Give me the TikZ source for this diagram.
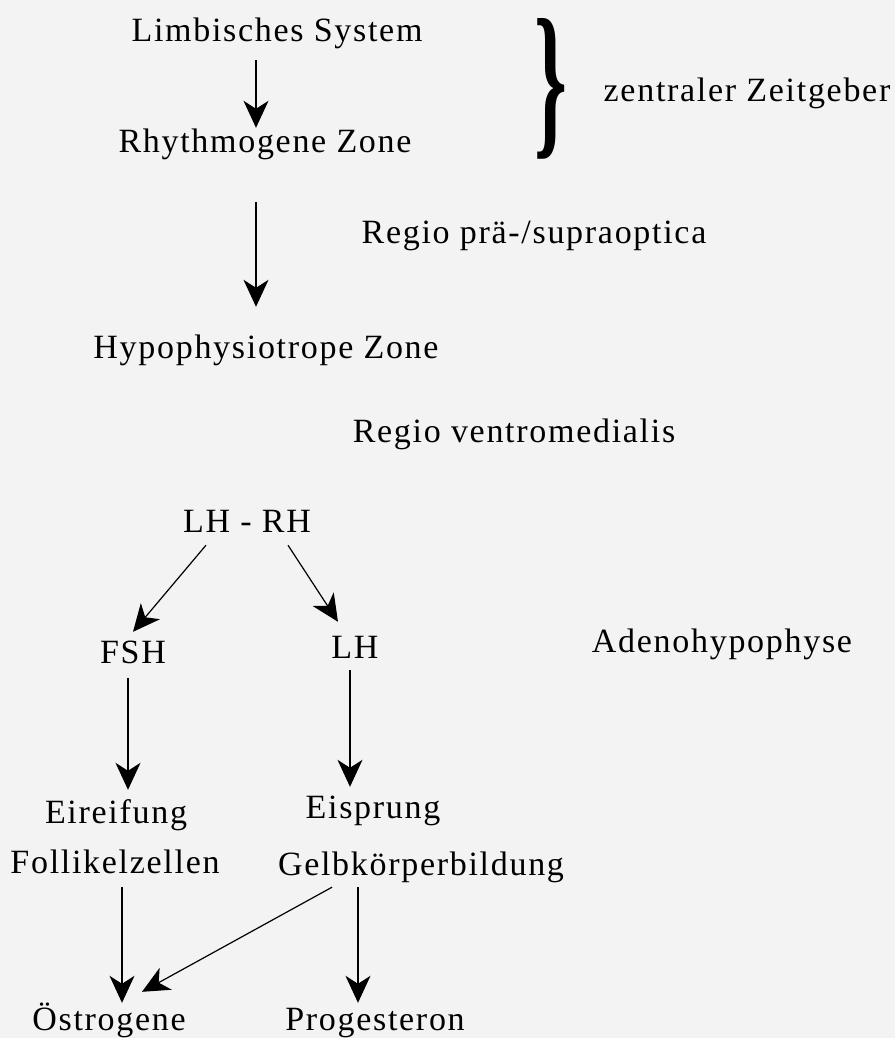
\documentclass[tikz,border=0pt]{standalone}
\usepackage{fontspec}
\setmainfont{Liberation Serif}[LetterSpace=5]
\usepackage{graphicx}
\usetikzlibrary{arrows.meta}
\definecolor{bgpaper}{RGB}{243,243,243}

\begin{document}
\begin{tikzpicture}[
		x=1pt, y=-1pt,
		every node/.style={anchor=base, inner sep=0pt, text height=23pt, text depth=7pt,
			font=\fontsize{34}{40}\selectfont},
		arr/.style={-{Stealth[length=27pt, width=25pt, inset=8pt]}, line width=1.2pt}
	]
  \useasboundingbox (0,0) rectangle (895,1038);
  \fill [bgpaper] (0,0) rectangle (895,1038);
  \node (limbic) at (277, 42) {Limbisches System};
  \node (rhythm) at (265, 152) {Rhythmogene Zone};
  \node (prae_opt) at (534, 243) {Regio prä-/supraoptica};
  \node (hypo) at (266, 358) {Hypophysiotrope Zone};
  \node (ventro) at (514, 442) {Regio ventromedialis};
  \node (lh_rh) at (247, 532) {LH - RH};
  \node (fsh) at (133, 663) {FSH};
  \node (lh) at (355, 658) {LH};
  \node (adeno) at (722, 652) {Adenohypophyse};
  \node (eireif) at (116, 823) {Eireifung};
  \node (eisprung) at (373, 818) {Eisprung};
  \node (follikel) at (115, 873) {Follikelzellen};
  \node (gelb_k) at (421, 875) {Gelbkörperbildung};
  \node (oestro) at (109, 1030) {Östrogene};
  \node (progest) at (375, 1030) {Progesteron};
  \node (brace) [anchor=center, text height=, text depth=] at (553, 89)
    {\resizebox{37pt}{118pt}{\textbf{\}}}};
  \node (zeitgeber) at (747, 102) {zentraler Zeitgeber};
  \draw ([xshift=-21pt, yshift=-11pt]limbic.south) edge [arr] ([xshift=-9pt, yshift=1pt]rhythm.north);
  \draw ([xshift=-9pt, yshift=-43pt]rhythm.south) edge [arr] ([xshift=-10pt, yshift=28pt]hypo.north);
  \draw ([xshift=-41pt, yshift=-6pt]lh_rh.south) edge [arr] ([yshift=8pt]fsh.north);
  \draw ([xshift=41pt, yshift=-6pt]lh_rh.south) edge [arr] ([xshift=-17pt, yshift=13pt]lh.north);
  \draw ([xshift=-5pt, yshift=-8pt]fsh.south) edge [arr] ([xshift=12pt, yshift=10pt]eireif.north);
  \draw ([xshift=-5pt, yshift=-5pt]lh.south) edge [arr] ([xshift=-23pt, yshift=8pt]eisprung.north);
  \draw ([xshift=7pt, yshift=-7pt]follikel.south) edge [arr] ([xshift=13pt, yshift=4pt]oestro.north);
  \draw ([xshift=-89pt, yshift=-5pt]gelb_k.south) edge [arr] ([xshift=33pt, yshift=15pt]oestro.north);
  \draw ([xshift=-63pt, yshift=-5pt]gelb_k.south) edge [arr] ([xshift=-17pt, yshift=4pt]progest.north);
\end{tikzpicture}
\end{document}
